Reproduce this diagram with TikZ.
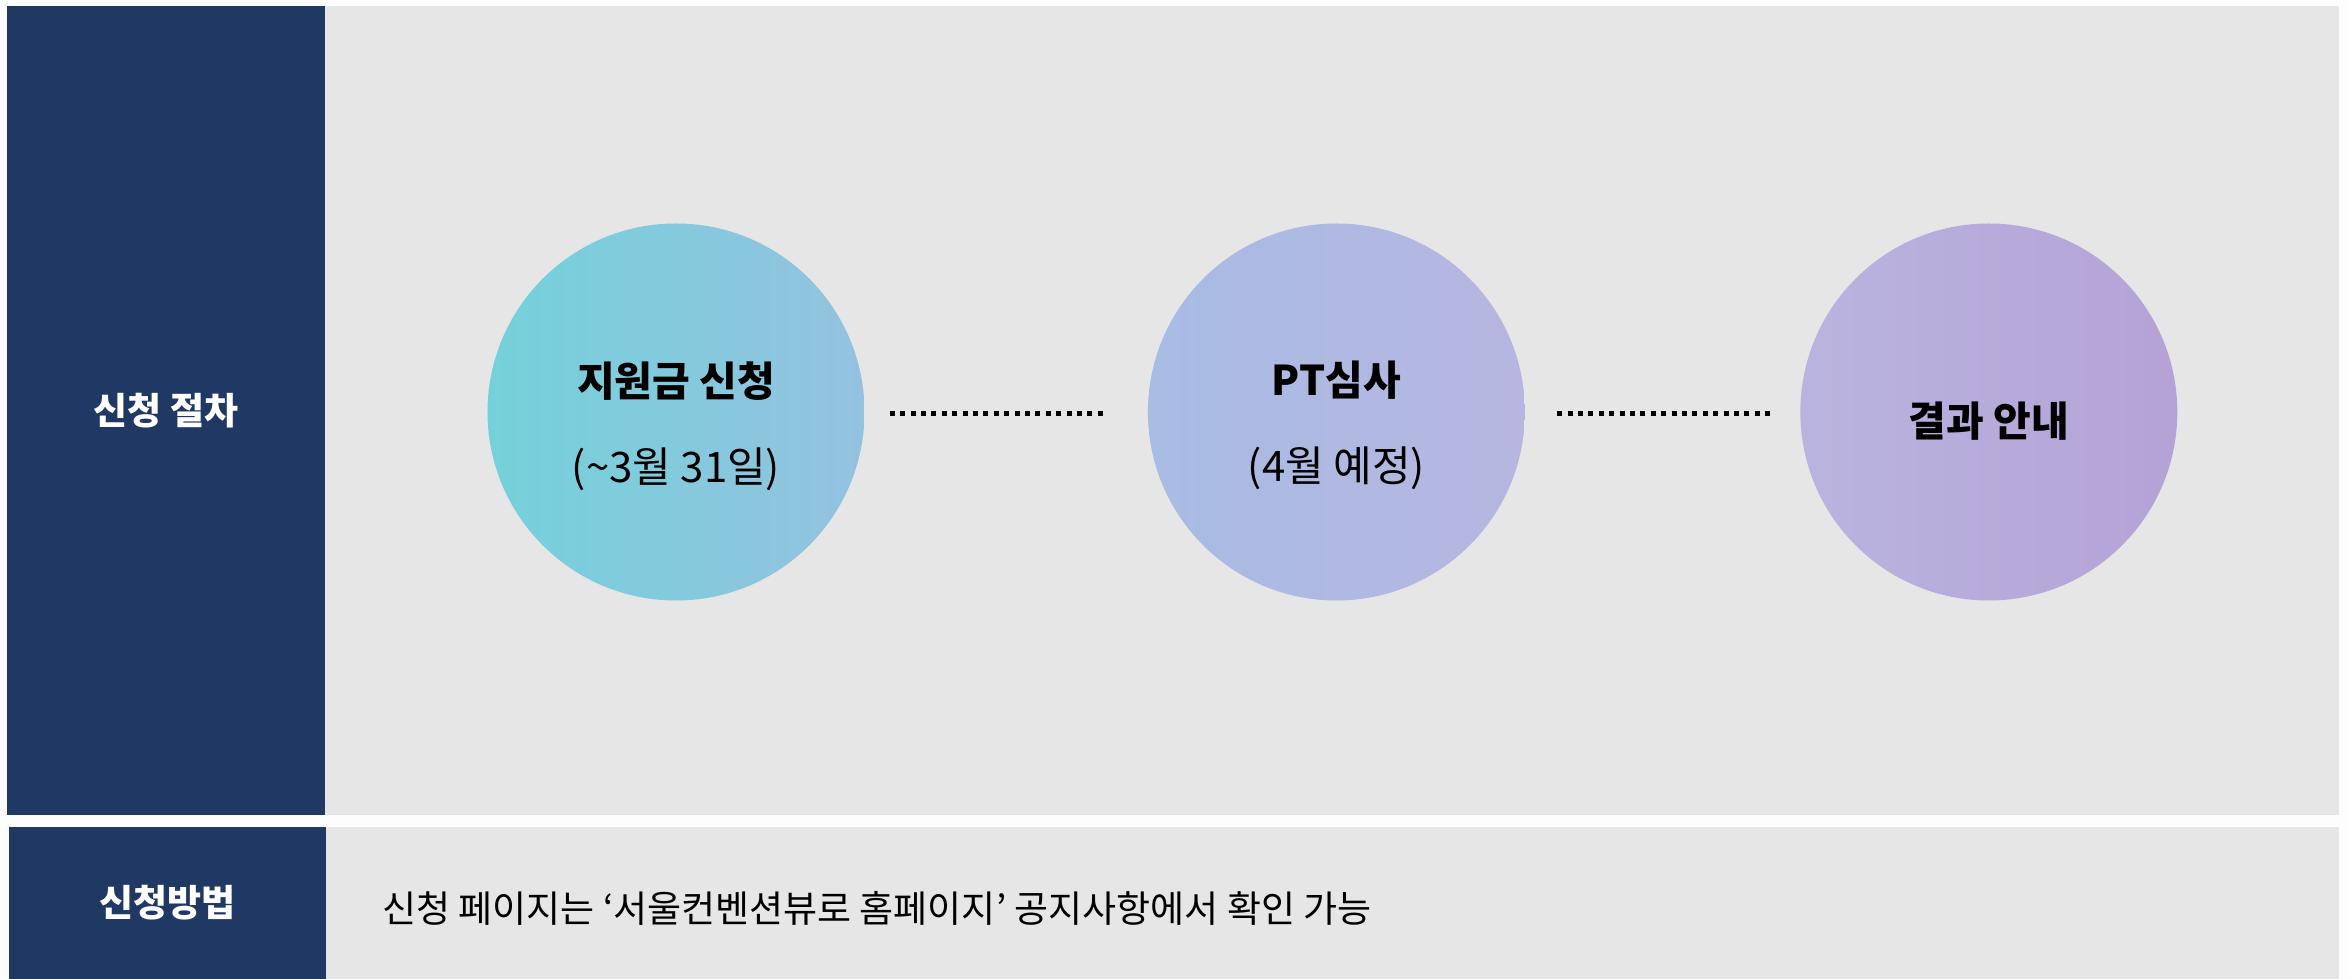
\documentclass[tikz,border=0pt]{standalone}
\usepackage{fontspec}
\setmainfont{Noto Sans CJK KR}
\usetikzlibrary{positioning}

\definecolor{navy}{HTML}{203864}
\definecolor{panelgray}{HTML}{E6E6E6}
\definecolor{pagebg}{HTML}{FDFDFD}
\definecolor{tealA}{HTML}{74D1DA}
\definecolor{tealB}{HTML}{94C2E0}
\definecolor{blueA}{HTML}{A8BCE4}
\definecolor{blueB}{HTML}{B6B6E0}
\definecolor{lilacA}{HTML}{B9B4DF}
\definecolor{lilacB}{HTML}{B5A2D6}

\begin{document}
\begin{tikzpicture}[x=1pt, y=1pt, node distance=283pt]
  \tikzstyle{head} = [rectangle, fill=navy, text=white, inner sep=0pt, font=\fontsize{37}{44}\selectfont\bfseries]
  \tikzstyle{panel} = [rectangle, fill=panelgray, inner sep=0pt]
  \tikzstyle{circ} = [circle, inner sep=0pt, minimum size=377pt]
  \tikzstyle{ctitle} = [inner sep=0pt, font=\fontsize{41}{48}\selectfont\bfseries]
  \tikzstyle{cnote} = [inner sep=0pt, font=\fontsize{42}{48}\selectfont]
  \tikzstyle{dots} = [line width=5pt, dash pattern=on 5pt off 5.4pt]

  \fill[pagebg] (0,0) rectangle (2349,979);
  \useasboundingbox (0,0) rectangle (2349,979);

  \node[panel, minimum width=2014pt, minimum height=809pt] (procpanel) at (1332,568.5) {};
  \node[head, minimum width=318pt, minimum height=809pt] (proc) at (166,568.5) {신청 절차};
  \node[panel, minimum width=2013pt, minimum height=152pt] (howpanel) at (1332.5,76) {};
  \node[head, minimum width=317pt, minimum height=152pt] (how) at (167.5,76) {신청방법};

  \node[circ, left color=tealA, right color=tealB] (apply) at (676,567) {};
  \node[circ, left color=blueA, right color=blueB, right=of apply] (review) {};
  \node[circ, left color=lilacA, right color=lilacB, right=275pt of review] (result) {};

  \node[ctitle] (applyt) at ([yshift=31pt]apply.center) {지원금 신청};
  \node[cnote] (applyn) at ([yshift=-57pt]apply.center) {(\textasciitilde3월 31일)};
  \node[ctitle] (reviewt) at ([yshift=32pt]review.center) {PT심사};
  \node[cnote] (reviewn) at ([yshift=-56pt]review.center) {(4월 예정)};
  \node[ctitle] (resultt) at ([yshift=-9pt]result.center) {결과 안내};

  \draw[dots, shorten <=25pt, shorten >=45pt] ([yshift=-2pt]apply.east) -- ([yshift=-2pt]review.west);
  \draw[dots, shorten <=32pt, shorten >=30pt] ([yshift=-2pt]review.east) -- ([yshift=-2pt]result.west);

  \node[anchor=west, inner sep=0pt, font=\fontsize{37}{44}\selectfont] (howtext) at (382,71)
    {신청 페이지는 ‘서울컨벤션뷰로 홈페이지’ 공지사항에서 확인 가능};

\end{tikzpicture}
\end{document}
